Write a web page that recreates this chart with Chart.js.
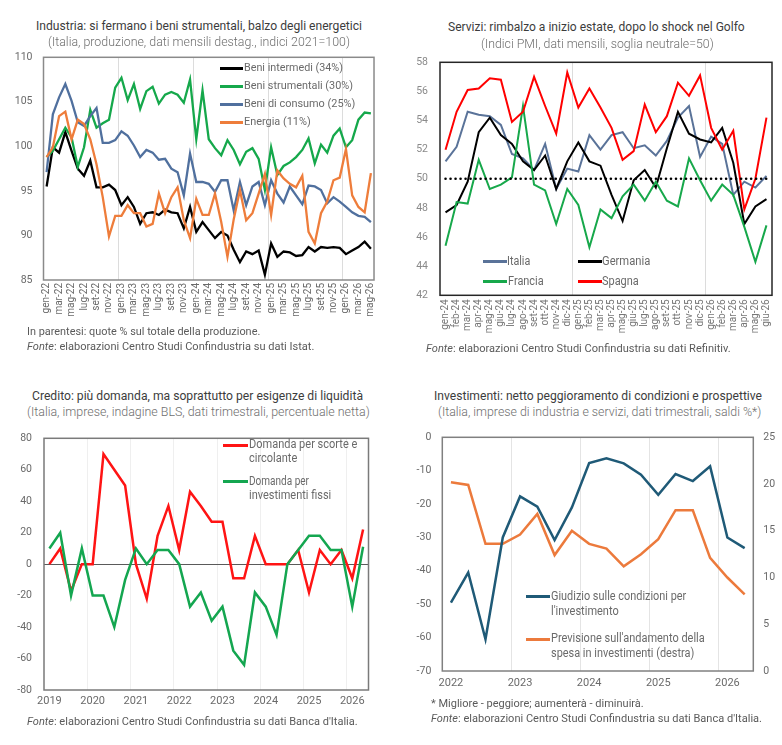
<!DOCTYPE html>
<html lang="it">
<head>
<meta charset="utf-8">
<title>Industria, servizi, credito e investimenti</title>
<script src="https://cdn.jsdelivr.net/npm/chart.js@4.4.1/dist/chart.umd.min.js"></script>
<style>
  html, body { margin: 0; padding: 0; background: #fff; overflow: hidden; }
  body { position: relative; width: 782px; height: 745px; font-family: Roboto, "Noto Sans", Arial, sans-serif; }
  canvas { position: absolute; }
  .t { position: absolute; white-space: nowrap; transform-origin: 0 0; line-height: 1; }
  .titolo { font-size: 12px; color: #3c3c3c; }
  .sotto { font-size: 12px; color: #6e6e6e; font-weight: 300; }
  .nota { font-size: 10px; color: #5a5a5a; }
  .leg { font-size: 11px; color: #6a6a6a; }
  .leg12 { font-size: 12px; color: #6a6a6a; }
  .sw { position: absolute; height: 3px; }
</style>
</head>
<body>
<canvas id="c1" width="386" height="300" style="left:0;top:40px"></canvas>
<canvas id="c2" width="392" height="302" style="left:392px;top:44px"></canvas>
<canvas id="c3" width="386" height="300" style="left:0;top:420px"></canvas>
<canvas id="c4" width="390" height="282" style="left:392px;top:420px"></canvas>

<!-- pannello 1 -->
<div class="t titolo" data-w="326" style="left:36px;top:19.6px">Industria: si fermano i beni strumentali, balzo degli energetici</div>
<div class="t sotto" data-w="302" style="left:47.7px;top:35.9px">(Italia, produzione, dati mensili destag., indici 2021=100)</div>
<div class="sw" style="left:220px;top:66.8px;width:23.3px;background:#000"></div>
<div class="sw" style="left:220px;top:84.5px;width:23.3px;background:#15a84b"></div>
<div class="sw" style="left:220px;top:102.5px;width:23.3px;background:#50709e"></div>
<div class="sw" style="left:220px;top:120.8px;width:23.3px;background:#ee7d3b"></div>
<div class="t leg" data-w="99" style="left:244.3px;top:61.8px">Beni intermedi (34%)</div>
<div class="t leg" data-w="109" style="left:244.3px;top:79.5px">Beni strumentali (30%)</div>
<div class="t leg" data-w="111.3" style="left:244.3px;top:97.5px">Beni di consumo (25%)</div>
<div class="t leg" data-w="66.7" style="left:244.3px;top:115.8px">Energia (11%)</div>
<div class="t nota" data-w="233.3" style="left:26.7px;top:327.1px">In parentesi: quote % sul totale della produzione.</div>
<div class="t nota" data-w="287.3" style="left:26.7px;top:342.1px"><i>Fonte</i>: elaborazioni Centro Studi Confindustria su dati Istat.</div>

<!-- pannello 2 -->
<div class="t titolo" data-w="296.7" style="left:448.3px;top:20.9px">Servizi: rimbalzo a inizio estate, dopo lo shock nel Golfo</div>
<div class="t sotto" data-w="232.7" style="left:480.7px;top:37.9px">(Indici PMI, dati mensili, soglia neutrale=50)</div>
<div class="sw" style="left:483px;top:260.2px;width:23.7px;background:#5a7399"></div>
<div class="sw" style="left:577.7px;top:260.2px;width:24px;background:#000"></div>
<div class="sw" style="left:483px;top:280.2px;width:23.7px;background:#17a84b"></div>
<div class="sw" style="left:577.7px;top:280.2px;width:24px;background:#ff0000"></div>
<div class="t leg12" data-w="23.3" style="left:507px;top:254.7px">Italia</div>
<div class="t leg12" data-w="48.3" style="left:602px;top:254.7px">Germania</div>
<div class="t leg12" data-w="35.7" style="left:507.7px;top:274.7px">Francia</div>
<div class="t leg12" data-w="36.7" style="left:602px;top:274.7px">Spagna</div>
<div class="t nota" data-w="304.7" style="left:426px;top:343.6px"><i>Fonte</i>: elaborazioni Centro Studi Confindustria su dati Refinitiv.</div>

<!-- pannello 3 -->
<div class="t titolo" data-w="331" style="left:32.3px;top:389.6px">Credito: più domanda, ma soprattutto per esigenze di liquidità</div>
<div class="t sotto" data-w="342.7" style="left:26.7px;top:406.2px">(Italia, imprese, indagine BLS, dati trimestrali, percentuale netta)</div>
<div class="sw" style="left:223px;top:443.5px;width:25px;background:#ff1414"></div>
<div class="sw" style="left:223px;top:480.2px;width:25px;background:#14a650"></div>
<div class="t leg12" data-w="108.3" style="left:248.5px;top:438px">Domanda per scorte e</div>
<div class="t leg12" data-w="48.3" style="left:248.5px;top:452.3px">circolante</div>
<div class="t leg12" data-w="60" style="left:248.5px;top:474.7px">Domanda per</div>
<div class="t leg12" data-w="82.3" style="left:248.5px;top:489px">investimenti fissi</div>
<div class="t nota" data-w="330.7" style="left:26.7px;top:716.6px"><i>Fonte</i>: elaborazioni Centro Studi Confindustria su dati Banca d'Italia.</div>

<!-- pannello 4 -->
<div class="t titolo" data-w="328" style="left:434.3px;top:389.6px">Investimenti: netto peggioramento di condizioni e prospettive</div>
<div class="t sotto" data-w="323.3" style="left:437.7px;top:406.2px">(Italia, imprese di industria e servizi, dati trimestrali, saldi %*)</div>
<div class="sw" style="left:526px;top:595.2px;width:23.5px;background:#1f5a77"></div>
<div class="sw" style="left:526px;top:637.8px;width:23.5px;background:#ec7a3c"></div>
<div class="t leg12" data-w="135.3" style="left:550.7px;top:589.7px">Giudizio sulle condizioni per</div>
<div class="t leg12" data-w="67.7" style="left:550.7px;top:604.7px">l'investimento</div>
<div class="t leg12" data-w="153.7" style="left:550.7px;top:632.3px">Previsione sull'andamento della</div>
<div class="t leg12" data-w="143.3" style="left:550.7px;top:647px">spesa in investimenti (destra)</div>
<div class="t nota" data-w="212.7" style="left:430.7px;top:698.6px">* Migliore - peggiore; aumenterà - diminuirà.</div>
<div class="t nota" data-w="331" style="left:430.7px;top:714.1px"><i>Fonte</i>: elaborazioni Centro Studi Confindustria su dati Banca d'Italia.</div>

<script>
// --- dati pannello 1: produzione industriale, indici 2021=100
const mesi1 = [
  "gen-22","feb-22","mar-22","apr-22","mag-22","giu-22","lug-22","ago-22","set-22","ott-22","nov-22","dic-22",
  "gen-23","feb-23","mar-23","apr-23","mag-23","giu-23","lug-23","ago-23","set-23","ott-23","nov-23","dic-23",
  "gen-24","feb-24","mar-24","apr-24","mag-24","giu-24","lug-24","ago-24","set-24","ott-24","nov-24","dic-24",
  "gen-25","feb-25","mar-25","apr-25","mag-25","giu-25","lug-25","ago-25","set-25","ott-25","nov-25","dic-25",
  "gen-26","feb-26","mar-26","apr-26","mag-26"
];
const beniIntermedi = [95.5, 99.9, 99.3, 101.6, 99.5, 97.5, 96.7, 98.4, 95.4, 95.4, 95.7, 95.1,
  93.4, 94.3, 93.2, 91.3, 92.5, 92.6, 92.3, 92.9, 92.6, 92.5, 90.8, 93.2,
  90.4, 91.5, 90.6, 89.7, 90.4, 90.0, 88.4, 87.0, 88.2, 87.9, 88.3, 85.6,
  89.1, 87.6, 88.2, 88.1, 87.7, 87.8, 88.7, 88.2, 88.7, 88.6, 88.7, 88.6,
  87.9, 88.3, 88.7, 89.3, 88.5];
const beniStrumentali = [98.8, 99.5, 100.8, 102.1, 101.0, 97.7, 99.9, 104.1, 102.1, 102.6, 103.0, 106.6,
  107.7, 105.2, 107.0, 104.2, 106.2, 106.7, 104.8, 105.8, 106.1, 105.8, 104.9, 107.5,
  100.8, 106.3, 100.8, 99.8, 99.0, 100.7, 99.6, 98.0, 99.4, 99.8, 98.6, 95.1,
  99.9, 96.8, 97.8, 98.2, 98.8, 99.6, 100.9, 98.1, 100.2, 99.3, 101.2, 102.0,
  99.9, 100.7, 103.0, 103.8, 103.7];
const beniConsumo = [97.1, 103.6, 105.5, 107.0, 105.1, 102.7, 102.3, 103.4, 104.3, 100.4, 100.4, 100.7,
  101.7, 101.2, 100.1, 98.8, 99.6, 99.3, 98.5, 98.6, 97.5, 97.1, 94.5, 99.2,
  96.0, 96.0, 95.8, 94.9, 96.2, 96.2, 92.8, 96.0, 93.4, 95.5, 96.0, 93.4,
  96.2, 94.7, 93.7, 95.5, 94.5, 93.5, 95.6, 95.5, 95.1, 93.6, 94.3, 93.8,
  93.2, 92.6, 92.2, 92.1, 91.5];
const energia = [98.8, 99.9, 103.4, 103.9, 100.8, 103.0, 102.5, 100.8, 98.0, 94.3, 89.9, 92.2,
  92.2, 93.4, 92.5, 92.5, 91.0, 91.3, 94.7, 92.5, 94.3, 95.4, 91.7, 89.7,
  94.1, 92.3, 92.3, 94.7, 91.5, 87.6, 91.8, 95.1, 91.7, 92.5, 94.7, 96.9,
  92.3, 97.3, 96.4, 95.8, 95.4, 96.7, 90.4, 89.1, 92.5, 93.8, 96.2, 96.5,
  99.7, 94.5, 93.2, 92.6, 97.0];

// --- dati pannello 2: PMI servizi
const mesi2 = [
  "gen-24","feb-24","mar-24","apr-24","mag-24","giu-24","lug-24","ago-24","set-24","ott-24","nov-24","dic-24",
  "gen-25","feb-25","mar-25","apr-25","mag-25","giu-25","lug-25","ago-25","set-25","ott-25","nov-25","dic-25",
  "gen-26","feb-26","mar-26","apr-26","mag-26","giu-26"
];
const pmiItalia = [51.2, 52.2, 54.6, 54.4, 54.3, 53.7, 51.7, 51.4, 50.6, 52.4, 49.3, 50.7,
  50.5, 53.0, 52.0, 53.0, 53.2, 52.1, 52.3, 51.6, 52.6, 54.2, 55.0, 51.5,
  52.9, 52.4, 48.9, 49.8, 49.4, 50.2];
const pmiGermania = [47.7, 48.2, 49.8, 53.2, 54.2, 53.0, 52.4, 51.2, 50.6, 51.6, 49.3, 51.2,
  52.5, 51.2, 50.9, 48.9, 47.1, 49.9, 50.6, 49.4, 52.1, 54.6, 53.1, 52.7,
  52.5, 53.5, 51.1, 46.9, 48.1, 48.6];
const pmiFrancia = [45.4, 48.4, 48.3, 51.3, 49.3, 49.6, 50.1, 55.0, 49.6, 49.2, 46.9, 49.3,
  48.2, 45.3, 47.9, 47.3, 48.8, 49.6, 48.5, 49.8, 48.5, 48.1, 51.4, 49.9,
  48.5, 49.6, 48.9, 46.7, 44.3, 46.8];
const pmiSpagna = [52.0, 54.6, 56.1, 56.2, 56.9, 56.8, 53.9, 54.6, 57.0, 55.0, 53.1, 57.3,
  54.9, 56.2, 54.9, 53.5, 51.3, 51.9, 55.1, 53.2, 54.3, 56.6, 55.7, 57.1,
  53.5, 52.0, 53.3, 47.9, 50.0, 54.2];
const soglia = 50;

// --- dati pannello 3: indagine BLS
const trimestri3 = [
  "2019 T1","2019 T2","2019 T3","2019 T4","2020 T1","2020 T2","2020 T3","2020 T4",
  "2021 T1","2021 T2","2021 T3","2021 T4","2022 T1","2022 T2","2022 T3","2022 T4",
  "2023 T1","2023 T2","2023 T3","2023 T4","2024 T1","2024 T2","2024 T3","2024 T4",
  "2025 T1","2025 T2","2025 T3","2025 T4","2026 T1","2026 T2"
];
const domandaScorte = [0, 10, -17, 0, 0, 70, 60, 50, 0, -22, 18, 37, 9, 46, 37, 27,
  27, -9, -9, 18, 0, 0, 0, 9, -18, 9, 0, 9, -9, 22];
const domandaInvestimenti = [10, 20, -20, 10, -20, -20, -40, -10, 10, 0, 9, 9, 0, -27, -18, -36,
  -27, -55, -64, -18, -27, -45, 0, 9, 18, 18, 9, 9, -27, 11];

// --- dati pannello 4: indagine Banca d'Italia
const trimestri4 = [
  "2022 T1","2022 T2","2022 T3","2022 T4","2023 T1","2023 T2","2023 T3","2023 T4",
  "2024 T1","2024 T2","2024 T3","2024 T4","2025 T1","2025 T2","2025 T3","2025 T4",
  "2026 T1","2026 T2"
];
const giudizioCondizioni = [-49.5, -40.5, -60.5, -30, -17.7, -20.8, -30.8, -21, -7.7, -6.3,
  -7.8, -11.2, -17.2, -11, -13.1, -8.7, -30, -33.2];
const previsioneSpesa = [20.2, 19.9, 13.6, 13.6, 14.6, 16.8, 12.4, 15.0, 13.6, 13.1,
  11.2, 12.5, 14.1, 17.2, 17.2, 12.1, 10.0, 8.2];

Chart.defaults.font.family = 'Roboto, "Noto Sans", sans-serif';
Chart.defaults.animation = false;
Chart.defaults.responsive = false;
Chart.defaults.devicePixelRatio = 1;
Chart.defaults.plugins.legend.display = false;
Chart.defaults.plugins.tooltip.enabled = false;
Chart.defaults.elements.point.radius = 0;
Chart.defaults.elements.line.tension = 0;

const cornice = {
  id: 'cornice',
  beforeDatasetsDraw(chart, args, opts) {
    const a = chart.chartArea, c = chart.ctx;
    c.save();
    c.strokeStyle = opts.color;
    c.lineWidth = opts.width;
    c.strokeRect(a.left, a.top, a.right - a.left, a.bottom - a.top);
    c.restore();
  }
};

const lineaSoglia = {
  id: 'lineaSoglia',
  afterDatasetsDraw(chart) {
    const x = chart.scales.x, y = chart.scales.y.getPixelForValue(soglia);
    const c = chart.ctx;
    c.save();
    c.setLineDash([0.01, 5]);
    c.lineCap = 'round';
    c.lineWidth = 2.6;
    c.strokeStyle = '#000';
    c.beginPath();
    c.moveTo(x.getPixelForValue(0), y);
    c.lineTo(x.getPixelForValue(mesi2.length - 1), y);
    c.stroke();
    c.restore();
  }
};

function serie(label, data, color, width, order, axis) {
  const d = { label, data, borderColor: color, backgroundColor: color, borderWidth: width, fill: false, order };
  if (axis) d.yAxisID = axis;
  return d;
}

function assiX(etichette, mostra, annoNuovo, o) {
  return {
    type: 'category',
    offset: true,
    border: { display: false },
    grid: {
      offset: true, drawTicks: false, lineWidth: 1,
      color: c => (c.index > 0 && c.index < etichette.length && annoNuovo(etichette[c.index])) ? o.gridColor : 'rgba(0,0,0,0)'
    },
    ticks: {
      autoSkip: false, maxRotation: o.rot, minRotation: o.rot, padding: o.pad,
      color: o.tickColor, font: { size: o.size },
      callback: (v, i) => mostra(etichette[i], i)
    },
    afterFit: s => { s.height = o.h; }
  };
}

function assiY(min, max, step, o) {
  return {
    min, max,
    position: o.pos || 'left',
    border: { display: false },
    grid: {
      display: !!o.zero, drawTicks: false,
      color: c => (c.tick && c.tick.value === 0) ? '#5a5a5a' : 'rgba(0,0,0,0)'
    },
    ticks: { stepSize: step, padding: o.pad, color: o.tickColor, font: { size: o.size } },
    afterFit: s => { s.width = o.w; }
  };
}

const anno = l => l.endsWith('T1');

// pannello 1
new Chart(document.getElementById('c1'), {
  type: 'line',
  data: {
    labels: mesi1,
    datasets: [
      serie('Beni intermedi (34%)', beniIntermedi, '#000000', 2.3, 4),
      serie('Beni strumentali (30%)', beniStrumentali, '#15a84b', 2.3, 3),
      serie('Beni di consumo (25%)', beniConsumo, '#50709e', 2.3, 2),
      serie('Energia (11%)', energia, '#ee7d3b', 2.3, 1)
    ]
  },
  options: {
    layout: { padding: { left: 0, right: 11, top: 16, bottom: 0 } },
    scales: {
      x: assiX(mesi1, (l, i) => i % 2 === 0 ? l : '', l => l.startsWith('gen'),
        { gridColor: '#dcdcdc', rot: 90, pad: 3, tickColor: '#6a6a6a', size: 10, h: 60 }),
      y: assiY(85, 110, 5, { pad: 11, tickColor: '#6a6a6a', size: 10.5, w: 43.5 })
    },
    plugins: { cornice: { color: '#8a8a8a', width: 1.5 } }
  },
  plugins: [cornice]
});

// pannello 2
new Chart(document.getElementById('c2'), {
  type: 'line',
  data: {
    labels: mesi2,
    datasets: [
      serie('Italia', pmiItalia, '#5a7399', 2, 4),
      serie('Germania', pmiGermania, '#000000', 2, 3),
      serie('Francia', pmiFrancia, '#17a84b', 2, 2),
      serie('Spagna', pmiSpagna, '#ff0000', 2, 1)
    ]
  },
  options: {
    layout: { padding: { left: 0, right: 12, top: 15.3, bottom: 0 } },
    scales: {
      x: assiX(mesi2, l => l, l => l.startsWith('gen'),
        { gridColor: '#dcdcdc', rot: 90, pad: 4, tickColor: '#777777', size: 10, h: 50.7 }),
      y: assiY(42, 58, 2, { pad: 12, tickColor: '#8a8a8a', size: 10.5, w: 48 })
    },
    plugins: { cornice: { color: '#262626', width: 1.5 } }
  },
  plugins: [cornice, lineaSoglia]
});

// pannello 3
new Chart(document.getElementById('c3'), {
  type: 'line',
  data: {
    labels: trimestri3,
    datasets: [
      serie('Domanda per scorte e circolante', domandaScorte, '#ff1414', 2.5, 2),
      serie('Domanda per investimenti fissi', domandaInvestimenti, '#14a650', 2.5, 1)
    ]
  },
  options: {
    layout: { padding: { left: 0, right: 17.5, top: 9.3, bottom: 0 } },
    scales: {
      x: assiX(trimestri3, l => anno(l) ? l.slice(0, 4) : '', anno,
        { gridColor: '#efefef', rot: 0, pad: 5, tickColor: '#6a6a6a', size: 11, h: 30 }),
      y: assiY(-80, 80, 20, { pad: 12, tickColor: '#6a6a6a', size: 10.5, w: 44, zero: true })
    },
    plugins: { cornice: { color: '#7a7a7a', width: 1.5 } }
  },
  plugins: [cornice]
});

// pannello 4
new Chart(document.getElementById('c4'), {
  type: 'line',
  data: {
    labels: trimestri4,
    datasets: [
      serie('Giudizio sulle condizioni per l\'investimento', giudizioCondizioni, '#1f5a77', 2.5, 1, 'y'),
      serie('Previsione sull\'andamento della spesa in investimenti (destra)', previsioneSpesa, '#ec7a3c', 2.5, 2, 'y1')
    ]
  },
  options: {
    layout: { padding: { left: 0, right: 0, top: 11, bottom: 0 } },
    scales: {
      x: assiX(trimestri4, l => anno(l) ? l.slice(0, 4) : '', anno,
        { gridColor: '#e4e4e4', rot: 0, pad: 6, tickColor: '#6a6a6a', size: 11, h: 31 }),
      y: assiY(-70, 0, 10, { pad: 11, tickColor: '#6a6a6a', size: 10.5, w: 50.3 }),
      y1: assiY(0, 25, 5, { pos: 'right', pad: 10, tickColor: '#6a6a6a', size: 10.5, w: 28.7 })
    },
    plugins: { cornice: { color: '#808080', width: 1.5 } }
  },
  plugins: [cornice]
});

// adatta la larghezza dei testi a quella del riferimento
document.querySelectorAll('.t').forEach(el => {
  const w = +el.dataset.w;
  const nat = el.getBoundingClientRect().width;
  if (w && nat) el.style.transform = 'scaleX(' + (w / nat) + ')';
});
</script>
</body>
</html>
